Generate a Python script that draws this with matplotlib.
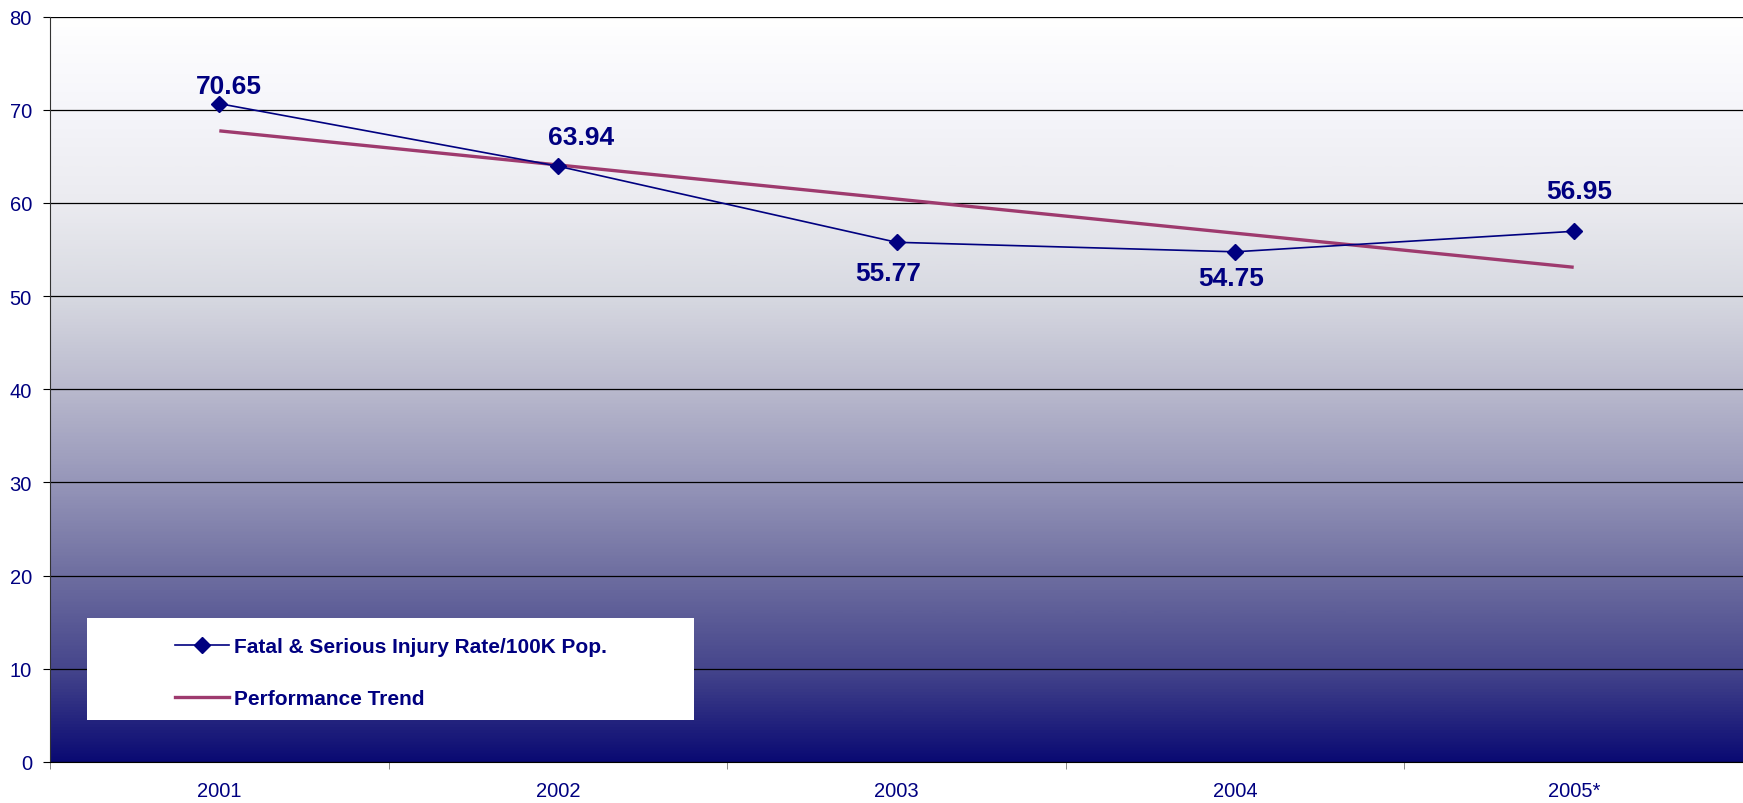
import numpy as np
import matplotlib
matplotlib.use("Agg")
import matplotlib.pyplot as plt
from matplotlib.colors import LinearSegmentedColormap
from matplotlib.lines import Line2D
from matplotlib.patches import Rectangle

years = ["2001", "2002", "2003", "2004", "2005*"]
rate = [70.65, 63.94, 55.77, 54.75, 56.95]
trend = [67.73, 64.07, 60.41, 56.75, 53.09]

# where each value label sits relative to its point (points)
label_offsets = [(7, 13), (17, 21), (-6, -22), (-3, -19), (4, 29)]

NAVY = "#000080"
PLUM = "#9e3a6e"

plt.rcParams['font.family'] = ['Liberation Sans', 'DejaVu Sans']

fig = plt.figure(figsize=(17.43, 8.04), dpi=100)
ax = fig.add_axes([50 / 1743, 1 - 763 / 804, 1 - 50 / 1743, (763 - 17.5) / 804])

# background gradient, white at the top to navy at the bottom
stops = [(0.0, (10, 10, 115)), (0.125, (70, 70, 140)), (0.25, (110, 110, 160)),
         (0.375, (150, 150, 185)), (0.5, (185, 185, 205)), (0.625, (215, 217, 225)),
         (0.75, (235, 235, 240)), (0.875, (245, 245, 250)), (1.0, (255, 255, 255))]
cmap = LinearSegmentedColormap.from_list(
    "bg", [(p, tuple(c / 255 for c in col)) for p, col in stops])
grad = np.linspace(0, 1, 512).reshape(-1, 1)
ax.imshow(grad, extent=[-0.5, 4.5, 0, 80], origin="lower", aspect="auto",
          cmap=cmap, zorder=0)

x = np.arange(len(years))
ax.plot(x, trend, color=PLUM, lw=2.4, zorder=3, solid_capstyle="butt")
ax.plot(x, rate, color=NAVY, lw=1.2, marker="D", ms=8.5, zorder=4)

for xi, v, off in zip(x, rate, label_offsets):
    ax.annotate(f"{v:.2f}", (xi, v), xytext=off,
                textcoords="offset points", ha="center", va="center",
                fontsize=19, fontweight="bold", color=NAVY, zorder=5)

ax.set_xlim(-0.5, 4.5)
ax.set_ylim(0, 80)
ax.set_yticks(np.arange(0, 81, 10))
ax.set_xticks(x)
ax.set_xticklabels(years)
ax.set_xticks(np.arange(-0.5, 4.6, 1), minor=True)
ax.tick_params(axis="x", which="major", length=0, pad=14, labelsize=14.5, labelcolor=NAVY)
ax.tick_params(axis="x", which="minor", length=5, color="#777777")
ax.tick_params(axis="y", length=5, pad=8, labelsize=14.5, labelcolor=NAVY)

ax.set_axisbelow(True)
ax.yaxis.grid(True, color="black", lw=0.9)
for s in ["top", "right"]:
    ax.spines[s].set_visible(False)
ax.spines["left"].set_color("#333333")
ax.spines["bottom"].set_color("black")

# legend on a white box
ax.add_patch(Rectangle(((87 - 50) / 1693, (763 - 721) / 745.5),
                       (694 - 87) / 1693, (721 - 619) / 745.5,
                       transform=ax.transAxes, facecolor="white",
                       edgecolor="none", zorder=6))
handles = [Line2D([], [], color=NAVY, lw=1.2, marker="D", ms=8.5),
           Line2D([], [], color=PLUM, lw=2.4)]
leg = ax.legend(handles, ["Fatal & Serious Injury Rate/100K Pop.", "Performance Trend"],
                loc="upper left", bbox_to_anchor=((175 - 50) / 1693, (763 - 638.5) / 745.5),
                frameon=False, borderpad=0, borderaxespad=0, handlelength=2.6,
                handletextpad=0.25, labelspacing=1.55,
                prop={"size": 15, "weight": "bold"})
leg.set_zorder(7)
for t in leg.get_texts():
    t.set_color(NAVY)

fig.savefig("out.png", dpi=100)
